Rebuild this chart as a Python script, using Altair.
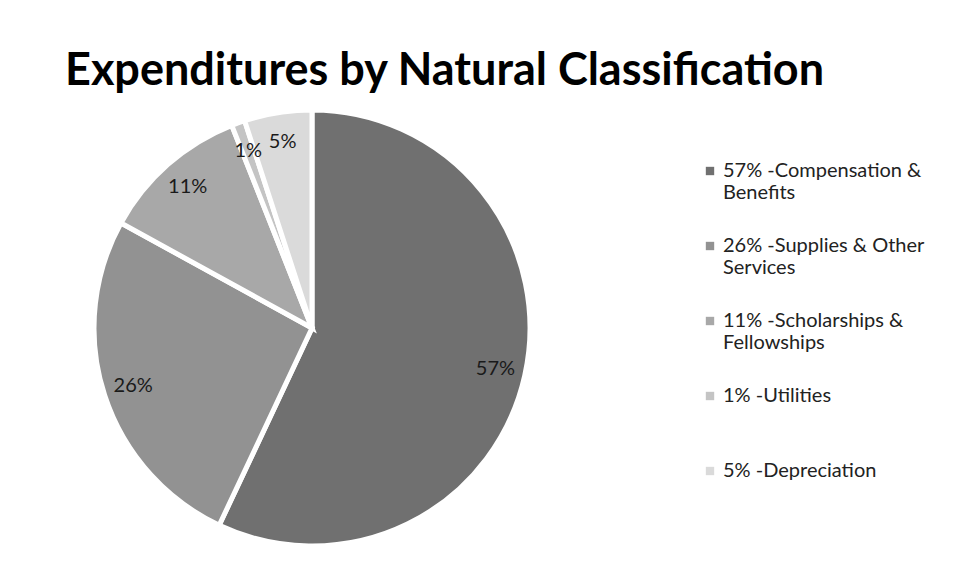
import altair as alt
import pandas as pd

categories = [
    "57% -Compensation &\nBenefits",
    "26% -Supplies & Other\nServices",
    "11% -Scholarships &\nFellowships",
    "1% -Utilities\n ",
    "5% -Depreciation\n ",
]
values = [57, 26, 11, 1, 5]
slice_labels = ["57%", "26%", "11%", "1%", "5%"]
grays = ["#707070", "#929292", "#a8a8a8", "#c4c4c4", "#dadada"]

df = pd.DataFrame({
    "category": categories,
    "value": values,
    "label": slice_labels,
    "order": list(range(len(categories))),
})

FONT = "Lato"
CX, CY, R = 312, 228, 218

base = alt.Chart(df).encode(
    theta=alt.Theta("value:Q", stack=True),
    order=alt.Order("order:Q"),
)

pie = base.mark_arc(
    outerRadius=R, x=CX, y=CY, stroke="white", strokeWidth=5
).encode(
    color=alt.Color(
        "category:N",
        scale=alt.Scale(domain=categories, range=grays),
        legend=alt.Legend(
            title=None,
            orient="none",
            legendX=700,
            legendY=61,
            symbolType="square",
            symbolSize=70,
            symbolStrokeWidth=0,
            labelFont=FONT,
            labelFontSize=20,
            labelColor="#222222",
            labelLimit=300,
            labelExpr="split(datum.label, '\\n')",
            rowPadding=33,
            symbolOffset=0,
            labelOffset=3,
        ),
    ),
)

text = base.mark_text(
    radius=188, x=CX, y=CY, font=FONT, fontSize=20, color="#1a1a1a"
).encode(text="label:N")

chart = (
    alt.layer(pie, text)
    .properties(
        width=964,
        height=480,
        padding={"left": 0, "top": 100, "right": 0, "bottom": 0},
        autosize=alt.AutoSizeParams(type="none"),
        background="white",
        title=alt.Title(
            "Expenditures by Natural Classification",
            font=FONT,
            fontSize=45,
            fontWeight="bold",
            color="black",
            anchor="start",
            frame="group",
            dx=65,
            offset=6,
        ),
    )
    .configure_view(stroke=None)
)

chart.save("out.html", embed_options={"renderer": "svg", "actions": False})
